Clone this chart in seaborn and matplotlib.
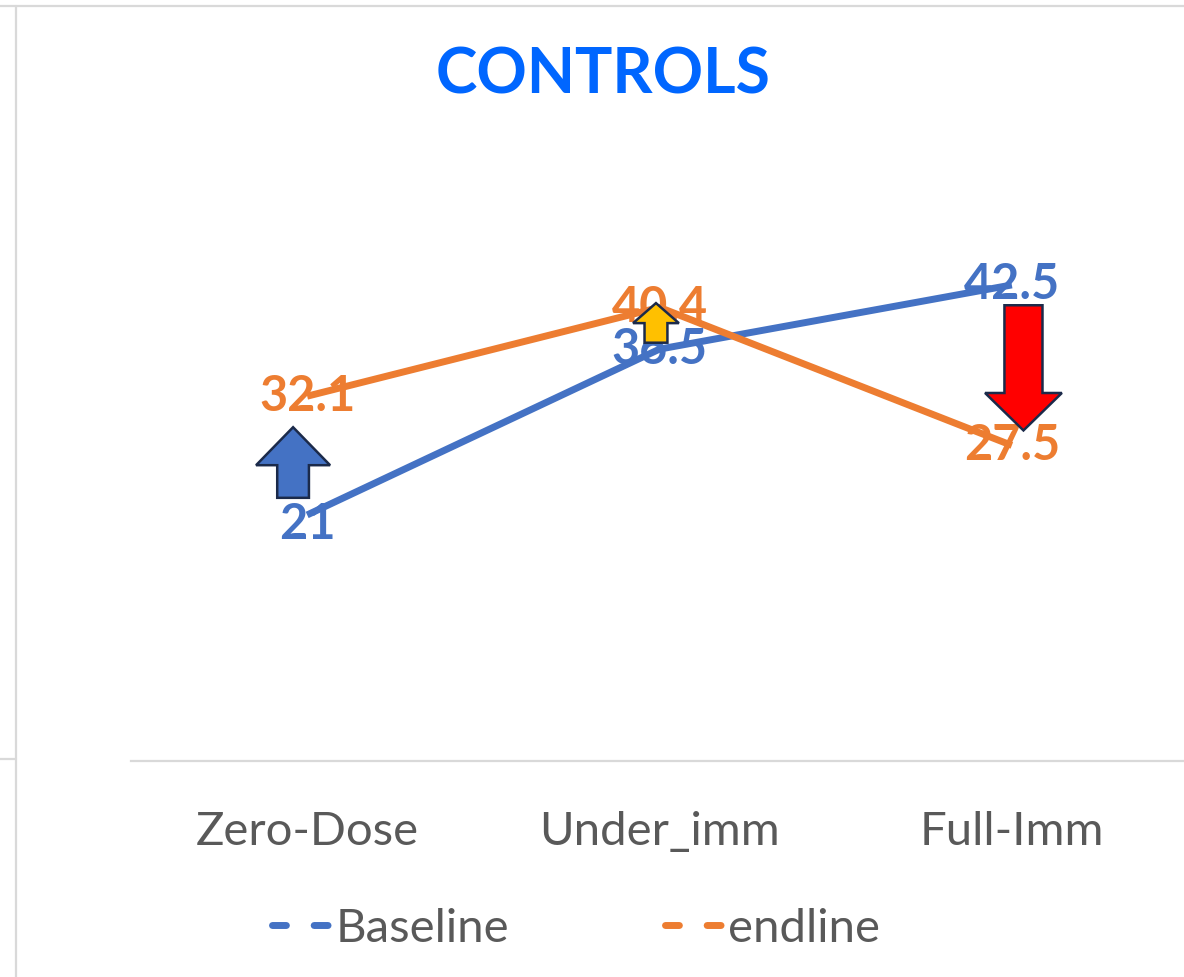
import matplotlib
matplotlib.use("Agg")
import matplotlib.pyplot as plt
from matplotlib.lines import Line2D
from matplotlib.patches import Polygon
import seaborn as sns
import pandas as pd

categories = ["Zero-Dose", "Under_imm", "Full-Imm"]
baseline = [21, 36.5, 42.5]
endline = [32.1, 40.4, 27.5]
series_names = ["Baseline", "endline"]
title_text = "CONTROLS"

BLUE = "#4472C4"
ORANGE = "#ED7D31"
GRAY_TXT = "#595959"
GRID = "#D9D9D9"
NAVY = "#1B2A4A"

sns.set_theme(style="white")
plt.rcParams["font.family"] = ["Lato", "DejaVu Sans"]

df = pd.DataFrame({
    "category": categories * 2,
    "value": baseline + endline,
    "series": [series_names[0]] * 3 + [series_names[1]] * 3,
})

fig = plt.figure(figsize=(11.84, 9.77), dpi=100)
ax = fig.add_axes([131 / 1184, (977 - 761) / 977, 1057 / 1184, 0.657])

sns.lineplot(data=df, x="category", y="value", hue="series",
             palette={series_names[0]: BLUE, series_names[1]: ORANGE},
             linewidth=5, ax=ax, legend=False, sort=False)
for l in ax.lines:
    l.set_solid_capstyle("butt")

ax.set_xlim(-0.5, 2.5)
ax.set_ylim(-2, 58)
ax.set_xlabel("")
ax.set_ylabel("")
ax.set_yticks([])
for s in ["top", "right", "left"]:
    ax.spines[s].set_visible(False)
ax.spines["bottom"].set_color(GRID)
ax.spines["bottom"].set_linewidth(1.6)
ax.tick_params(axis="x", length=0, pad=36, labelsize=34, labelcolor=GRAY_TXT)

# data labels (first baseline label sits slightly below its point)
for i, v in enumerate(baseline):
    dy = -7 if i == 0 else 0
    ax.annotate(f"{v:g}", (i, v), xytext=(0, dy), textcoords="offset points",
                color=BLUE, fontsize=35, fontweight="bold", ha="center", va="center")
for i, v in enumerate(endline):
    ax.annotate(f"{v:g}", (i, v), xytext=(0, 0), textcoords="offset points",
                color=ORANGE, fontsize=35, fontweight="bold", ha="center", va="center")


def arrow(xc, y_tail, y_tip, shaft_w, head_w, head_len, color):
    d = 1 if y_tip > y_tail else -1
    y_neck = y_tip - d * head_len
    pts = [
        (xc - shaft_w / 2, y_tail), (xc - shaft_w / 2, y_neck),
        (xc - head_w / 2, y_neck), (xc, y_tip),
        (xc + head_w / 2, y_neck), (xc + shaft_w / 2, y_neck),
        (xc + shaft_w / 2, y_tail),
    ]
    ax.add_patch(Polygon(pts, closed=True, facecolor=color, edgecolor=NAVY,
                         linewidth=1.8, zorder=5, joinstyle="miter"))


arrow(0 - 0.04, 22.6, 29.2, 0.09, 0.21, 3.55, BLUE)
arrow(1 - 0.01, 37.1, 40.8, 0.065, 0.13, 1.87, "#FFC000")
arrow(2 + 0.033, 40.6, 28.9, 0.108, 0.218, 3.5, "#FF0000")

# title
fig.text(603 / 1184, 1 - 75 / 977, title_text, color="#0066FF", fontsize=45,
         fontweight="bold", ha="center", va="center")

# legend
handles = [Line2D([], [], color=BLUE, linewidth=5, dashes=(2, 4), dash_capstyle="round"),
           Line2D([], [], color=ORANGE, linewidth=5, dashes=(2, 4), dash_capstyle="round")]
fig.legend(handles, series_names, loc="center", bbox_to_anchor=(576 / 1184, 1 - 929 / 977),
           ncol=2, frameon=False, fontsize=34, labelcolor=GRAY_TXT,
           handlelength=1.3, handletextpad=0.05, columnspacing=3.3)

# chart frame remnants
fig.add_artist(Line2D([0, 1], [1 - 6 / 977, 1 - 6 / 977], color=GRID, linewidth=1.6,
                      transform=fig.transFigure))
fig.add_artist(Line2D([16 / 1184, 16 / 1184], [0, 1 - 6 / 977], color=GRID, linewidth=1.6,
                      transform=fig.transFigure))
fig.add_artist(Line2D([0, 16 / 1184], [1 - 759 / 977, 1 - 759 / 977], color=GRID,
                      linewidth=1.6, transform=fig.transFigure))

fig.savefig("out.png", dpi=100, facecolor="white")
